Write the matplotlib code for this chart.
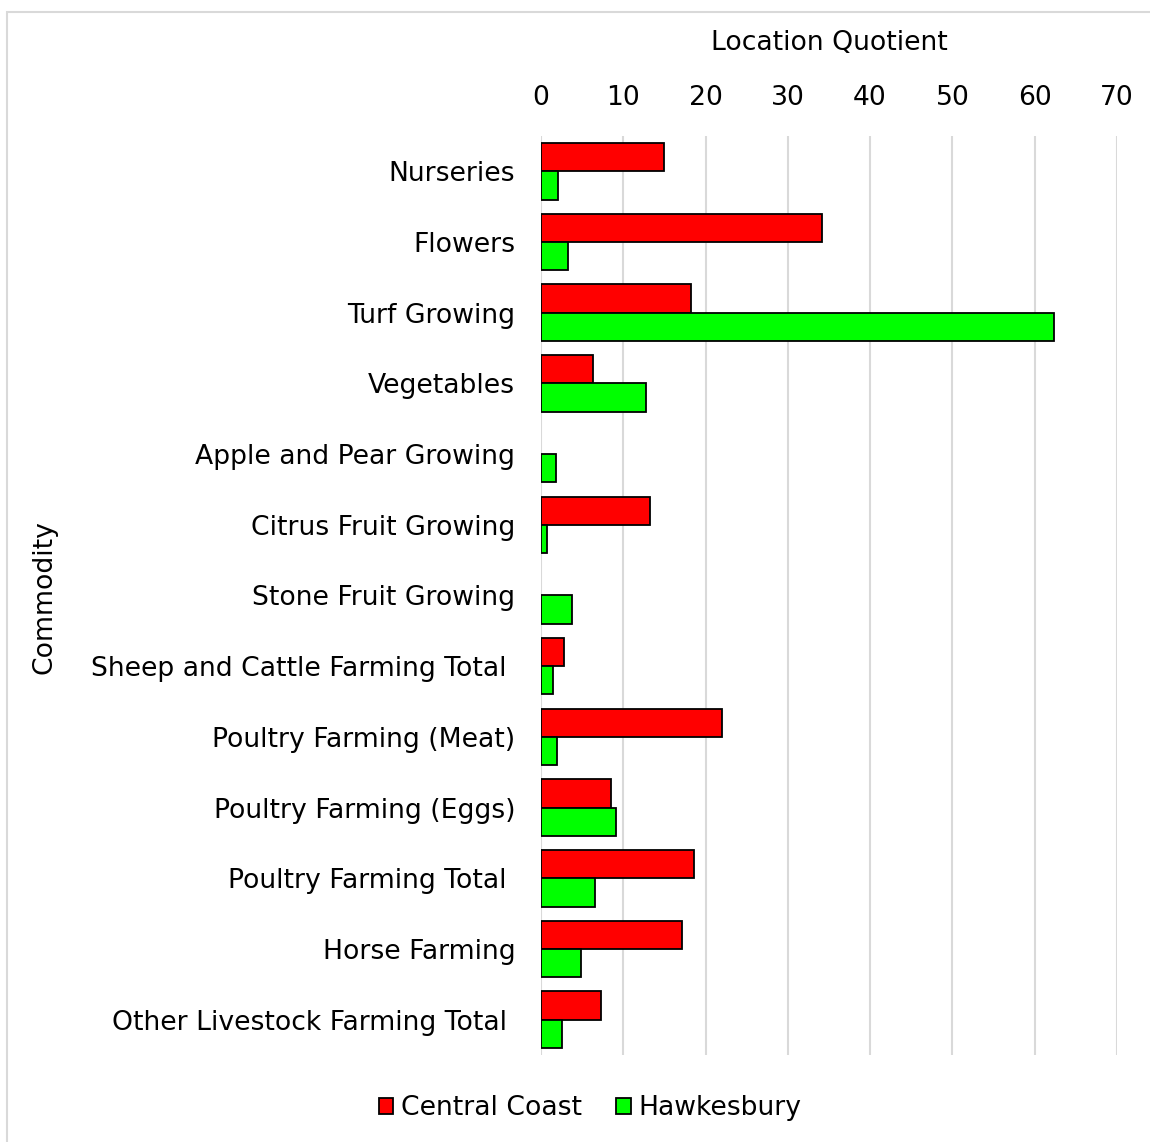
import matplotlib
matplotlib.use("Agg")
import matplotlib.pyplot as plt
import numpy as np
from matplotlib.patches import Rectangle

# Données
categories = ["Nurseries", "Flowers", "Turf Growing", "Vegetables", "Apple and Pear Growing",
              "Citrus Fruit Growing", "Stone Fruit Growing", "Sheep and Cattle Farming Total ",
              "Poultry Farming (Meat)", "Poultry Farming (Eggs)", "Poultry Farming Total ",
              "Horse Farming", "Other Livestock Farming Total "]
central_coast = [14.9, 34.1, 18.2, 6.3, 0, 13.2, 0, 2.8, 22.0, 8.5, 18.6, 17.1, 7.3]
hawkesbury = [2.1, 3.3, 62.3, 12.8, 1.8, 0.7, 3.8, 1.5, 1.9, 9.1, 6.6, 4.9, 2.6]
xticks = [0, 10, 20, 30, 40, 50, 60, 70]

plt.rcParams['font.family'] = ['DejaVu Sans']
fs = 19.2

fig = plt.figure(figsize=(11.5, 11.42), dpi=100)
ax = fig.add_axes([0.4704, 0.0762, 0.5009, 0.8047])

# Cadre gris autour du graphique
fig.patches.append(Rectangle((7 / 1150, -0.01), 1.0, 1 - 12 / 1142 + 0.01, transform=fig.transFigure,
                             fill=False, edgecolor='#d9d9d9', linewidth=1.5))

y = np.arange(len(categories))
h = 0.4
bords_cc = ['black' if v > 0 else 'none' for v in central_coast]  # pas de trait pour les valeurs nulles
bords_hk = ['black' if v > 0 else 'none' for v in hawkesbury]
ax.barh(y - h / 2, central_coast, height=h, color='#ff0000', edgecolor=bords_cc, linewidth=1.3,
        label='Central Coast', zorder=3)
ax.barh(y + h / 2, hawkesbury, height=h, color='#00ff00', edgecolor=bords_hk, linewidth=1.3,
        label='Hawkesbury', zorder=3)

ax.set_ylim(len(categories) - 0.5, -0.5)
ax.set_xlim(0, 70)
ax.set_yticks(y)
ax.set_yticklabels(categories, fontsize=fs)
ax.set_xticks(xticks)
ax.set_xticklabels([str(v) for v in xticks], fontsize=fs)
ax.xaxis.tick_top()
ax.xaxis.set_label_position('top')
ax.tick_params(axis='both', length=0)
ax.tick_params(axis='y', pad=18.5)
ax.tick_params(axis='x', pad=18)
ax.grid(axis='x', color='#d9d9d9', linewidth=1.5, zorder=0)
for s in ax.spines.values():
    s.set_visible(False)

ax.set_xlabel("Location Quotient", fontsize=fs, labelpad=25)
fig.text(45 / 1150, 1 - 597 / 1142, "Commodity", rotation=90, fontsize=fs, ha='center', va='center')

leg = fig.legend(loc='center', bbox_to_anchor=(590 / 1150, 1 - 1108 / 1142), ncol=2, frameon=False,
                 fontsize=fs, handlelength=0.55, handleheight=0.55, handletextpad=0.27, columnspacing=1.3)
for p in leg.get_patches():
    p.set_edgecolor('black')

fig.savefig("out.png", dpi=100)
